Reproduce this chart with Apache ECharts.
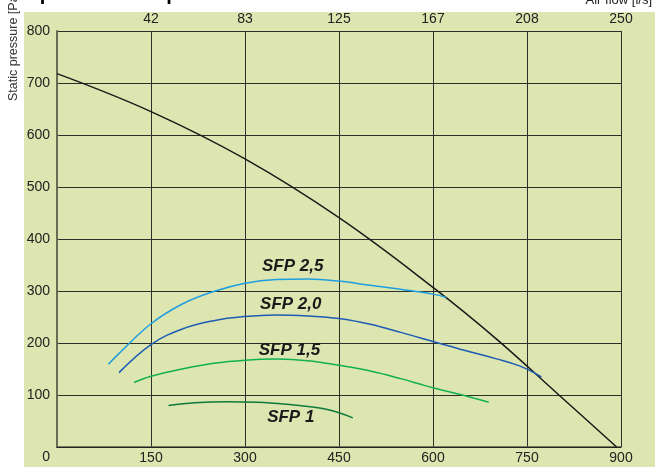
<!DOCTYPE html>
<html><head><meta charset="utf-8">
<script src="https://cdn.jsdelivr.net/npm/echarts@6/dist/echarts.min.js"></script>
<style>html,body{margin:0;padding:0;background:#fff}#c{width:655px;height:467px}</style>
</head><body><div id="c"></div>
<script>
// ---- data ----
const bottomTickLabels = ['0', '150', '300', '450', '600', '750', '900'];   // air flow m3/h
const topTickLabels = ['', '42', '83', '125', '167', '208', '250'];          // air flow l/s
const pressureTickLabels = ['0', '100', '200', '300', '400', '500', '600', '700', '800'];
const fanCurve = [[0, 718], [150, 645], [300, 554], [450, 441], [600, 307], [700, 209], [800, 101], [893, 0]];
const sfp25 = [[82, 159], [100, 181], [150, 237], [200, 275], [250, 299], [300, 315], [350, 322], [400, 323], [450, 319], [500, 311], [550, 303], [600, 294], [621, 288]];
const sfp20 = [[99, 143], [150, 197], [200, 227], [250, 243], [300, 251], [350, 254], [400, 252], [450, 247], [500, 236], [550, 220], [600, 203], [650, 186], [700, 170], [738, 156], [773, 135]];
const sfp15 = [[123, 124], [150, 136], [200, 150], [250, 161], [300, 167], [350, 169], [400, 166], [450, 157], [500, 146], [550, 131], [579, 121], [600, 114], [650, 99], [689, 86]];
const sfp10 = [[178, 80], [220, 85], [270, 87], [320, 86], [366, 82], [419, 75], [450, 66], [472, 56]];
const sfpNames = ['SFP 2,5', 'SFP 2,0', 'SFP 1,5', 'SFP 1'];
const sfpLabelPos = [[376, 347], [373, 274], [371, 185], [373, 57]];

// ---- chart ----
const FONT = '"Liberation Sans", Arial, sans-serif';
const chart = echarts.init(document.getElementById('c'), null, {renderer: 'canvas'});
const xStep = 150, yStep = 100;
const lineSeries = (data, color, w) => ({
  type: 'line', data: data, smooth: 0.4, symbol: 'none', silent: true,
  lineStyle: {color: color, width: w}, z: 3
});
chart.setOption({
  animation: false,
  grid: {left: 57, right: 34, top: 31, bottom: 16, containLabel: false},
  graphic: [
    {type: 'rect', z: -10, shape: {x: 24, y: 12, width: 700, height: 500}, style: {fill: '#dde6b1'}},
    {type: 'text', x: 0, y: 4, style: {text: 'Temperature and pressure', font: 'bold 20px ' + FONT, fill: '#000', textAlign: 'left', textVerticalAlign: 'bottom'}},
    {type: 'text', x: 652, y: 7, style: {text: 'Air flow [l/s]', font: '13px ' + FONT, fill: '#222', textAlign: 'right', textVerticalAlign: 'bottom'}},
    {type: 'text', x: 14, y: 101, rotation: Math.PI / 2, style: {text: 'Static pressure [Pa]', font: '12.5px ' + FONT, fill: '#333', textAlign: 'left', textVerticalAlign: 'middle'}}
  ],
  xAxis: [
    {type: 'value', position: 'bottom', min: 0, max: 900, interval: xStep,
      axisLine: {show: true, onZero: false, lineStyle: {color: '#5a5a48', width: 1.5}},
      axisTick: {show: false},
      splitLine: {show: true, lineStyle: {color: '#2e2e28', width: 1}},
      axisLabel: {showMinLabel: false, margin: 4, color: '#222', fontSize: 14, fontFamily: FONT,
        formatter: (v) => bottomTickLabels[Math.round(v / xStep)]}},
    {type: 'value', position: 'top', min: 0, max: 900, interval: xStep,
      axisLine: {show: true, lineStyle: {color: '#222', width: 1}},
      axisTick: {show: false}, splitLine: {show: false},
      axisLabel: {showMinLabel: false, margin: 5, color: '#222', fontSize: 14, fontFamily: FONT,
        formatter: (v) => topTickLabels[Math.round(v / xStep)]}}
  ],
  yAxis: {type: 'value', min: 0, max: 800, interval: yStep,
    axisLine: {show: true, lineStyle: {color: '#6b6b55', width: 2}},
    axisTick: {show: false},
    splitLine: {show: true, lineStyle: {color: '#2e2e28', width: 1}},
    axisLabel: {margin: 7, color: '#222', fontSize: 14, fontFamily: FONT, lineHeight: 20,
      formatter: (v) => { const t = pressureTickLabels[Math.round(v / yStep)]; return v === 0 ? '\n' + t : t; }}},
  series: [
    lineSeries(fanCurve, '#1a1a1a', 1.5),
    lineSeries(sfp25, '#1f9ee0', 1.5),
    lineSeries(sfp20, '#1c5cb4', 1.5),
    lineSeries(sfp15, '#12b050', 1.5),
    lineSeries(sfp10, '#0b7a3a', 1.5),
    {type: 'scatter', symbolSize: 0, silent: true, z: 4,
      itemStyle: {color: '#1a1a1a', opacity: 1},
      data: sfpLabelPos.map((p, i) => ({value: p, name: sfpNames[i]})),
      label: {show: true, position: 'inside', formatter: (p) => p.name, opacity: 1,
        textBorderWidth: 0, textShadowBlur: 0,
        fontFamily: FONT, fontSize: 17, fontWeight: 'bold', fontStyle: 'italic', color: '#1a1a1a'}}
  ]
});
</script></body></html>
